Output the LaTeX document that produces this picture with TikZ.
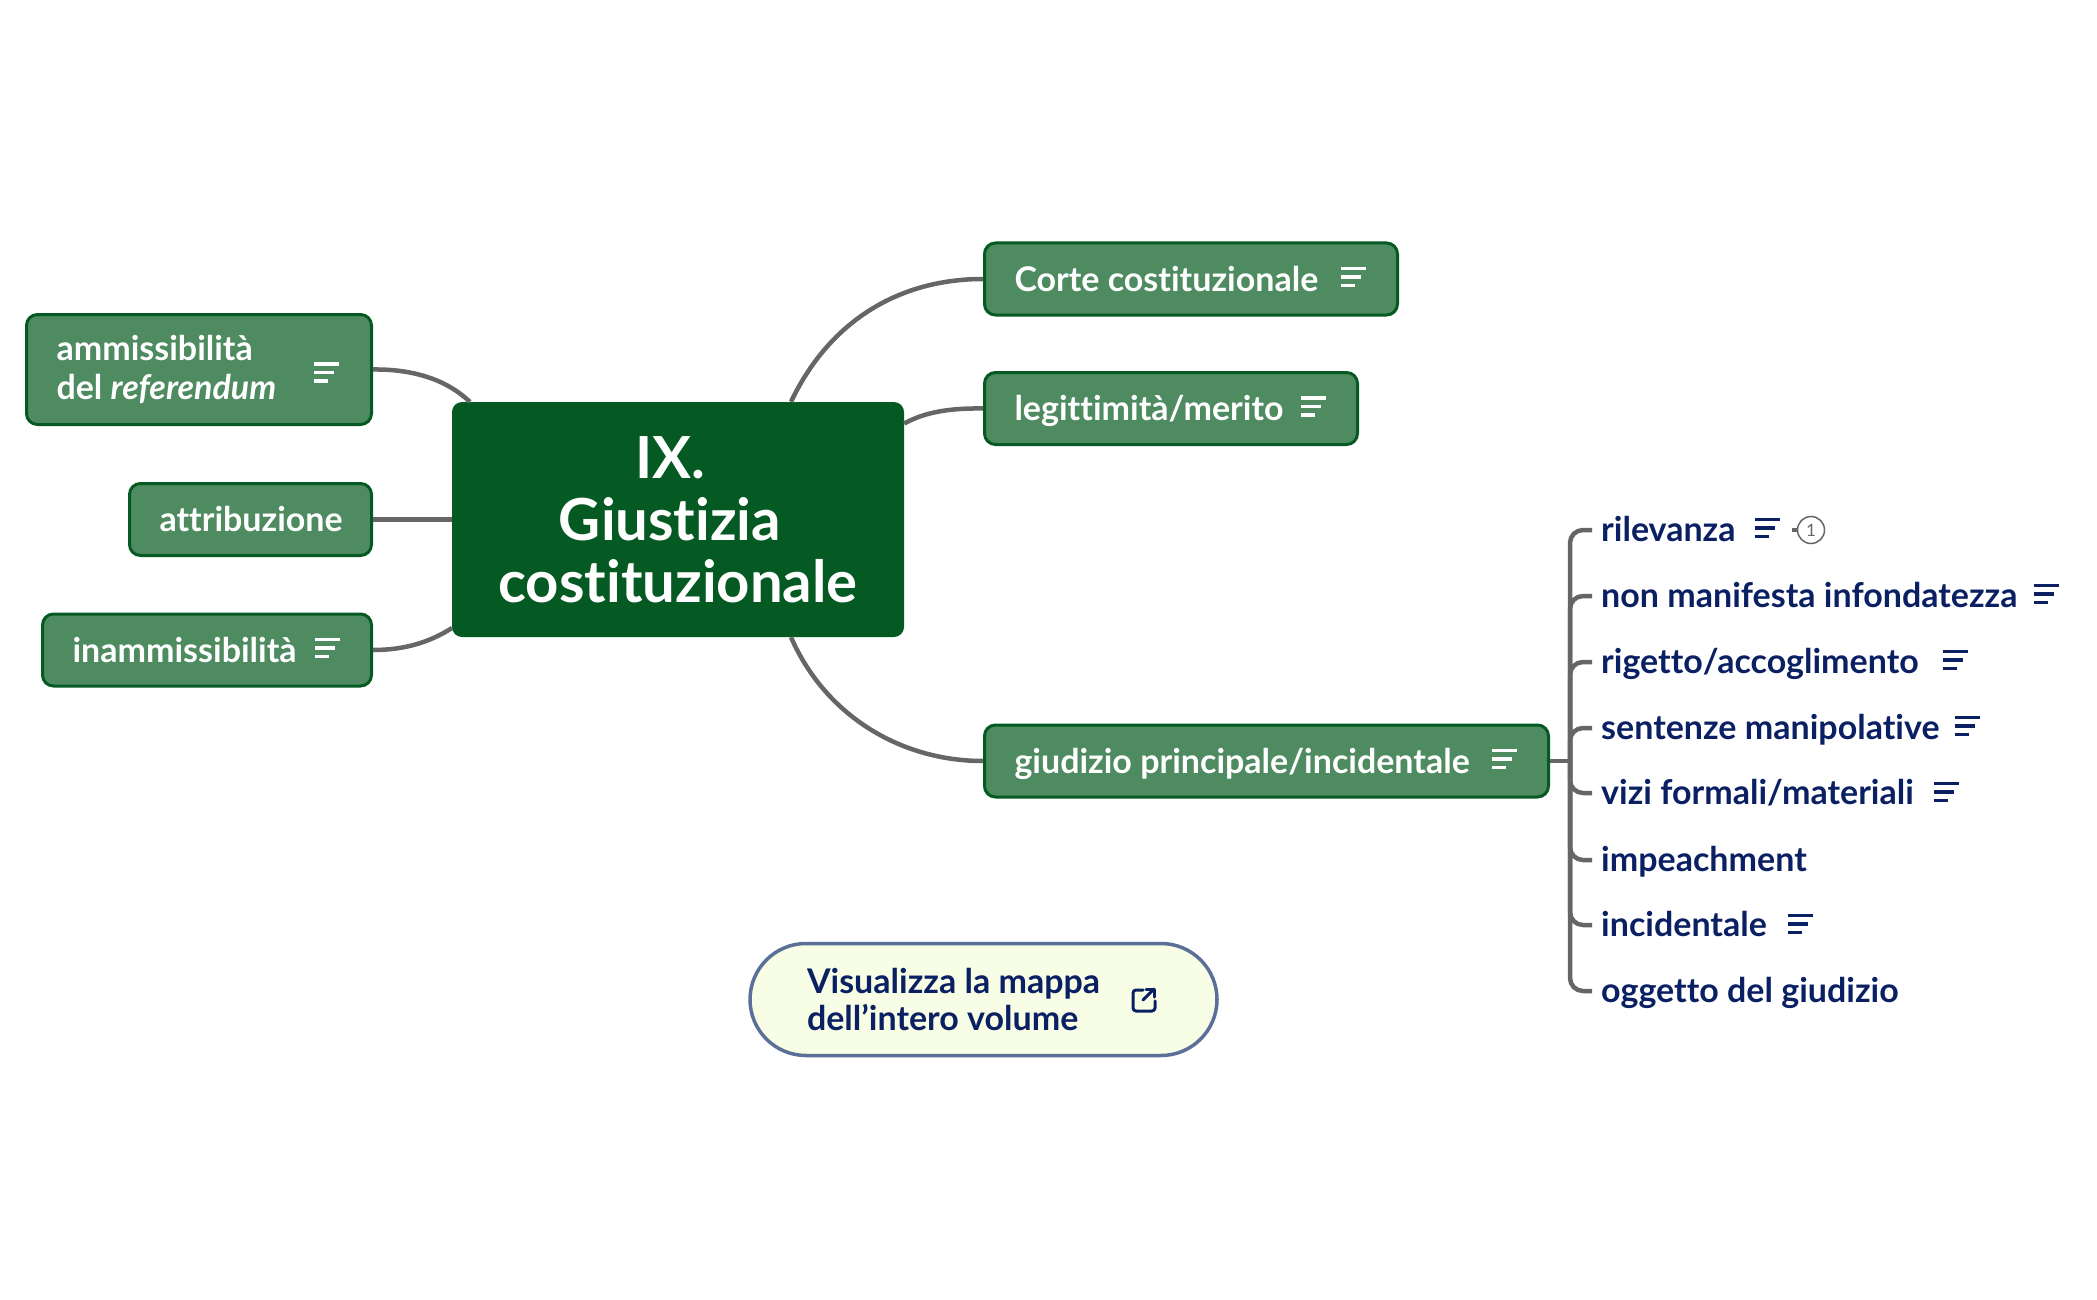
\documentclass[tikz,border=0pt]{standalone}
\usepackage{fontspec}
\setmainfont{Lato}[Ligatures=NoCommon]
\usetikzlibrary{shapes}
\definecolor{rootgreen}{HTML}{055A23}
\definecolor{leafgreen}{HTML}{4F8B61}
\definecolor{inkblue}{HTML}{0A2063}
\definecolor{linegray}{HTML}{666666}
\definecolor{buttonfill}{HTML}{F8FDE6}
\definecolor{buttonline}{HTML}{5B7099}
\newcommand{\leaf}[4]{\node[leafbox,oneline,text width=#2] (#3) at #1 {#4}; \pic[white] at ([xshift=-46pt,yshift=2pt]#3.east) {noteicon};}

\begin{document}
\begin{tikzpicture}[
      x=1pt,y=-1pt,
      leafbox/.style={rectangle,rounded corners=11pt,draw=rootgreen,line width=3pt,fill=leafgreen,text=white,inner xsep=30pt,inner ysep=0pt,minimum height=72pt,font=\fontsize{34}{39}\selectfont\bfseries,align=flush left},
      oneline/.style={text height=24pt,text depth=0pt},
      rootbox/.style={rectangle,rounded corners=10pt,fill=rootgreen,text=white,minimum width=452pt,minimum height=235pt,font=\fontsize{58}{62}\selectfont\bfseries,align=center},
      kid/.style={text=inkblue,inner xsep=9pt,inner ysep=0pt,text height=24pt,text depth=0.5pt,anchor=west,font=\fontsize{34}{38}\selectfont\bfseries},
      branch/.style={draw=linegray,line width=4.5pt},
      noteicon/.pic={
        \draw[line width=3.5pt] (-12.5,-8.5) -- (12.5,-8.5);
        \draw[line width=3.5pt] (-12.5,0) -- (8,0);
        \draw[line width=3.5pt] (-12.5,8.5) -- (2,8.5);
      }
      ]
      \useasboundingbox (0,0) rectangle (2097,1300);

      \node[rootbox] (root) at (678,519.5) {\mbox{IX.\hspace{16pt}}\\\mbox{Giustizia\hspace{16pt}}\\costituzionale};

      \node[leafbox,text width=285pt,minimum height=110pt] (ammissibilita) at (199,369.5) {ammissibilità\\del \textit{referendum}};
      \pic[white] at ([xshift=-47pt,yshift=-3pt]ammissibilita.east) {noteicon};
      \node[leafbox,oneline,text width=182pt] (attribuzione) at (250.5,519.5) {attribuzione};
      \leaf{(207,650)}{269pt}{inammissibilita}{inammissibilità}
      \leaf{(1191,279)}{353pt}{corte}{Corte costituzionale}
      \leaf{(1171,408.5)}{313pt}{legittimita}{legittimità/merito}
      \leaf{(1266.5,761)}{504pt}{giudizio}{giudizio principale/incidentale}

      \node[kid] (rilevanza) at (1592,530) {rilevanza};
      \node[kid] (infondatezza) at (1592,596) {non manifesta infondatezza};
      \node[kid] (rigetto) at (1592,662) {rigetto/accoglimento};
      \node[kid] (sentenze) at (1592,728) {sentenze manipolative};
      \node[kid] (vizi) at (1592,793) {vizi formali/materiali};
      \node[kid] (impeachment) at (1592,860) {impeachment};
      \node[kid] (incidentale) at (1592,925) {incidentale};
      \node[kid] (oggetto) at (1592,991) {oggetto del giudizio};

      \pic[inkblue] at (1767,528) {noteicon};
      \pic[inkblue] at (2046,594) {noteicon};
      \pic[inkblue] at (1955,660) {noteicon};
      \pic[inkblue] at (1967,726) {noteicon};
      \pic[inkblue] at (1946,792) {noteicon};
      \pic[inkblue] at (1800,924) {noteicon};

      \node[circle,draw=linegray,line width=1.5pt,text=linegray,inner sep=0pt,minimum size=27pt,font=\fontsize{17}{17}\selectfont] (badge) at (1811,530) {1};
      \draw[branch] ([xshift=-5pt]badge.west) -- (badge.west);

      \path[branch] ([xshift=113pt]root.north) .. controls (830,320) and (900,279) .. (corte.west);
      \path[branch] ([yshift=96pt]root.east) .. controls (925,412) and (950,408) .. (legittimita.west);
      \path[branch] ([xshift=113pt]root.south) .. controls (825,715) and (900,761) .. (giudizio.west);
      \path[branch] (ammissibilita.east) .. controls (410,369) and (445,378) .. (470,402);
      \path[branch] (attribuzione.east) -- (root.west);
      \path[branch] (inammissibilita.east) .. controls (405,650) and (430,642) .. (452,628);

      \coordinate (trunk) at (1570,761);
      \path[branch] (giudizio.east) -- (trunk);
      \foreach \kidname in {rilevanza,infondatezza,rigetto,sentenze,vizi,impeachment,incidentale,oggetto}
        \path[branch,rounded corners=13pt] (trunk) |- (\kidname.west);

      \node[rectangle,rounded corners=56pt,draw=buttonline,line width=3.5pt,fill=buttonfill,text=inkblue,minimum height=112pt,inner xsep=57pt,text width=353pt,align=flush left,font=\fontsize{34}{37}\selectfont\bfseries] (volume) at (983.5,999.5) {Visualizza la mappa\\dell’intero volume};
      \begin{scope}[shift={(1144,1000)},inkblue,line width=3pt,line cap=round,line join=round]
        \draw[rounded corners=3pt] (-1,-10) -- (-11,-10) -- (-11,11) -- (11,11) -- (11,1);
        \draw (-1,0) -- (10,-11);
        \draw (2,-11) -- (10,-11) -- (10,-3);
      \end{scope}
    \end{tikzpicture}
\end{document}
